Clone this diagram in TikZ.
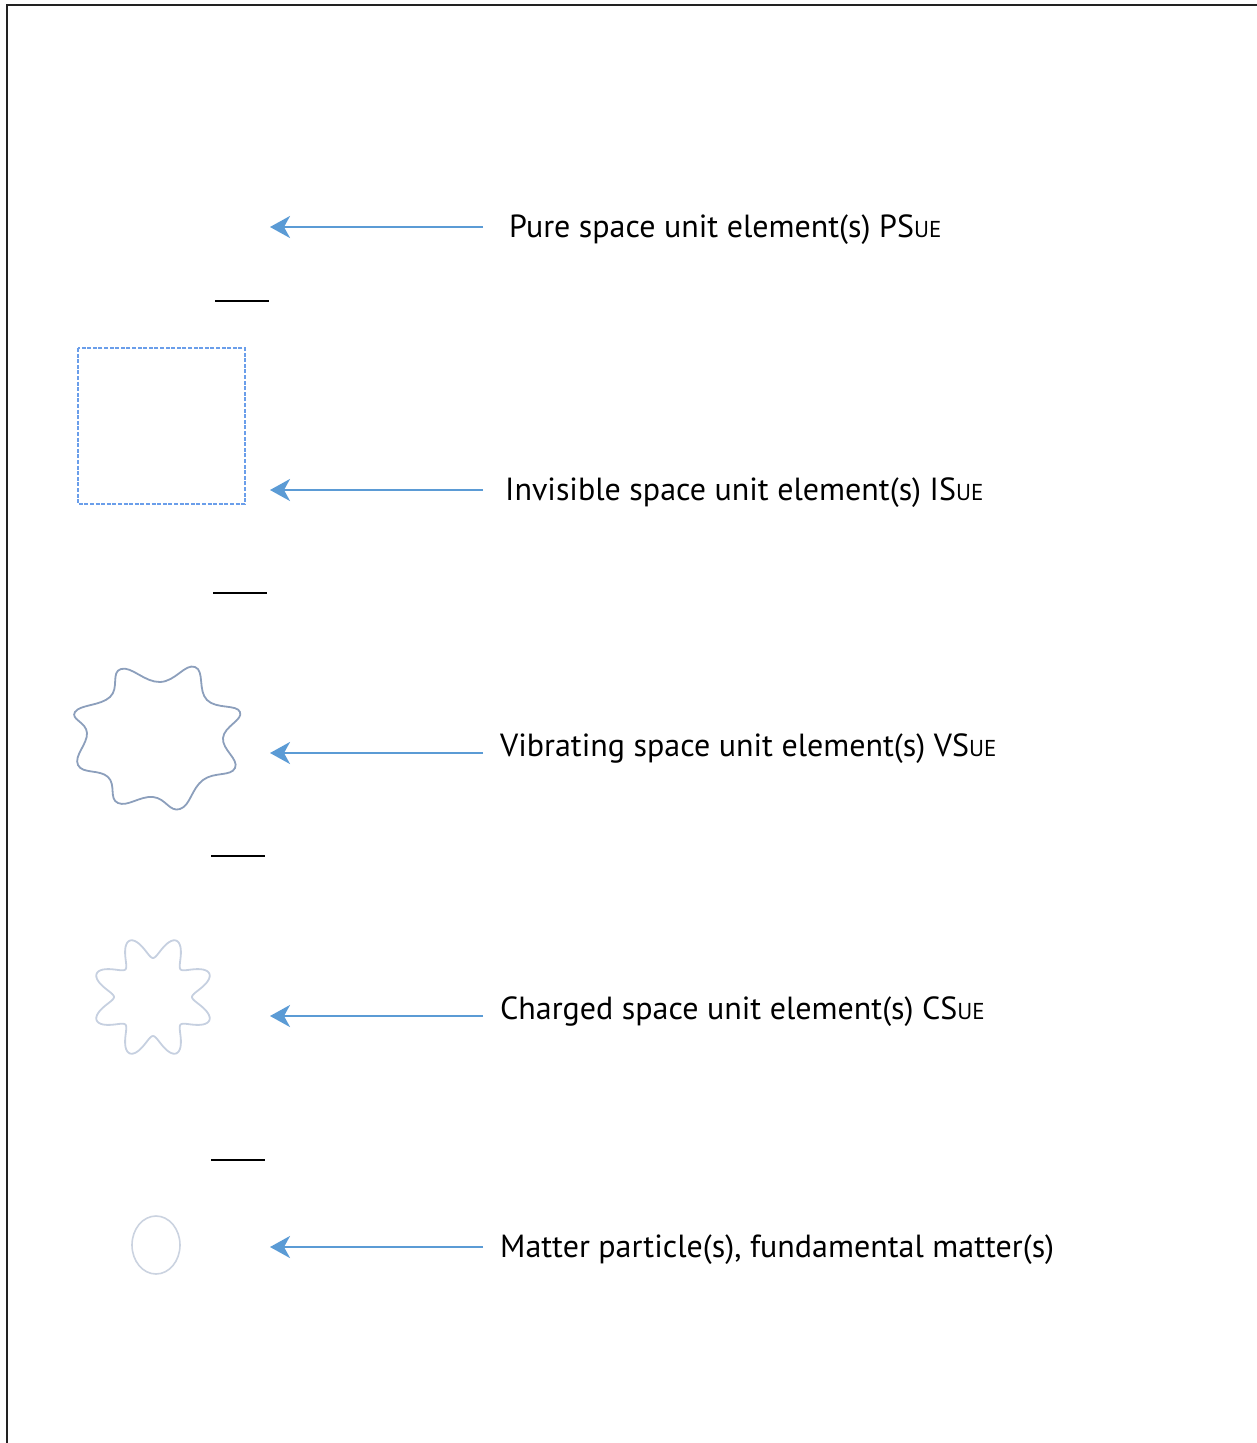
\documentclass[tikz,border=0pt]{standalone}
\usepackage{fontspec}
\setmainfont{PT Sans}
\usetikzlibrary{arrows.meta}
\definecolor{arrowblue}{HTML}{5B9BD5}
\definecolor{dashblue}{HTML}{6A9EEA}
\definecolor{blobgray}{HTML}{8C9FBC}
\definecolor{stargray}{HTML}{C6D0E0}
\definecolor{ellgray}{HTML}{CBD3E0}
\definecolor{framegray}{HTML}{222222}
\newcommand{\ue}{{\fontsize{23}{26}\selectfont UE}}
\begin{document}
\begin{tikzpicture}[x=1pt,y=-1pt,
  lbl/.style={font=\fontsize{32}{38}\selectfont, anchor=base west, inner sep=0pt},
  pointer/.style={draw=arrowblue, line width=2.4pt, -{Stealth[length=20pt,width=22pt,inset=6pt]}},
  sep/.style={draw=black, line width=1.2pt},
  frame/.style={draw=framegray, line width=2pt}]
\useasboundingbox (0,0) rectangle (1257,1443);
% frame
\coordinate (fbl) at (7,1443);
\coordinate (ftl) at (7,5);
\coordinate (ftr) at (1257,5);
\draw[frame] (fbl) -- (ftl) -- (ftr);

% labels
\node[lbl] (tPS) at (509,237) {Pure space unit element(s) PS\ue};
\node[lbl] (tIS) at (505,500) {Invisible space unit element(s) IS\ue};
\node[lbl] (tVS) at (500,756) {Vibrating space unit element(s) VS\ue};
\node[lbl] (tCS) at (500,1019) {Charged space unit element(s) CS\ue};
\node[lbl] (tMP) at (500,1257) {Matter particle(s), fundamental matter(s)};

% arrows
\foreach \n/\y in {PS/227, IS/490, VS/753, CS/1016, MP/1247}{
  \coordinate (s\n) at (483,\y);
  \coordinate (e\n) at (270,\y);
  \draw[pointer] (s\n) -- (e\n);
}

% separators
\coordinate (a1) at (215,301); \coordinate (b1) at (269,301);
\coordinate (a2) at (213,593); \coordinate (b2) at (267,593);
\coordinate (a3) at (211,856); \coordinate (b3) at (265,856);
\coordinate (a4) at (211,1160); \coordinate (b4) at (265,1160);
\draw[sep] (a1) -- (b1);
\draw[sep] (a2) -- (b2);
\draw[sep] (a3) -- (b3);
\draw[sep] (a4) -- (b4);

% dashed square
\draw[dashblue, line width=1.4pt, dash pattern=on 4pt off 1.6pt] (78,348) rectangle (245,504);

% vibrating blob
\draw[blobgray, line width=1.8pt] plot[smooth cycle, tension=0.75] coordinates {
  (240,712) (207,700) (195,667) (160,682) (121,669) (110,697) (75,712) (87,733)
  (78,765) (108,777) (118,803) (153,797) (180,809) (203,780) (235,768) (223,738)};

% charged star
\draw[stargray, line width=1.8pt] plot[domain=0:360, samples=241]
  ({153 + (50+11*cos(8*(\x-22.5)))*cos(\x)}, {997 - (50+11*cos(8*(\x-22.5)))*sin(\x)}) -- cycle;

% matter particle
\draw[ellgray, line width=1.6pt] (156,1245) ellipse [x radius=24pt, y radius=29pt];
\end{tikzpicture}
\end{document}
